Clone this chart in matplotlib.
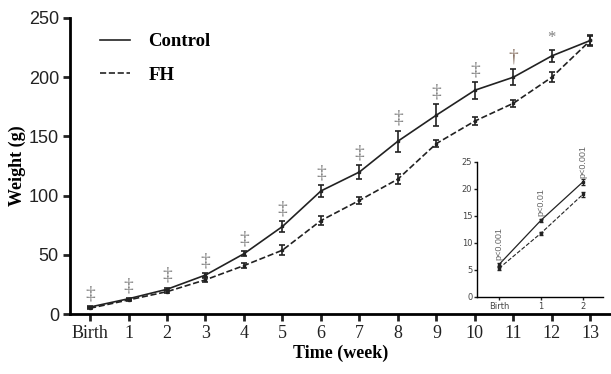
import numpy as np
import matplotlib
matplotlib.use("Agg")
import matplotlib.pyplot as plt
from matplotlib.lines import Line2D

# main chart data
weeks = ["Birth", "1", "2", "3", "4", "5", "6", "7", "8", "9", "10", "11", "12", "13"]
control = [6, 13, 21, 33, 51, 74, 104, 120, 146, 168, 189, 200, 218, 231]
control_err = [1, 1, 1.5, 2, 2, 5, 5, 6, 9, 9, 7, 7, 5, 5]
fh = [5, 12, 19, 29, 41, 54, 79, 96, 114, 144, 163, 178, 200, 231]
fh_err = [1, 1, 1.5, 1.5, 2, 4, 4, 3, 4, 3, 3, 3, 4, 4]
marks = ["‡"] * 11 + ["†", "*", ""]
mark_colors = ["#808080"] * 11 + ["#8a7466", "#808080", "#808080"]

# inset data (first weeks)
inset_weeks = ["Birth", "1", "2"]
inset_control = [6.0, 14.2, 21.3]
inset_control_err = [0.3, 0.3, 0.5]
inset_fh = [5.3, 11.8, 19.0]
inset_fh_err = [0.3, 0.3, 0.5]
inset_p = ["p<0.001", "p<0.01", "p<0.001"]

serif = ["Liberation Serif", "DejaVu Serif"]
sans = ["Liberation Sans", "DejaVu Sans"]
ink = "#222222"

fig = plt.figure(figsize=(6.11, 3.74), dpi=100)
ax = fig.add_axes([0.1146, 0.160, 0.885, 0.792])

x = np.arange(len(weeks))
ax.errorbar(x, control, yerr=control_err, color=ink, lw=1.2, capsize=2.5,
            elinewidth=1.2, capthick=1.2, marker="s", ms=2, label="Control")
ax.errorbar(x, fh, yerr=fh_err, color=ink, lw=1.2, ls="--", capsize=2.5,
            elinewidth=1.2, capthick=1.2, marker="s", ms=2, label="FH")
for i, m in enumerate(marks):
    if m:
        ax.text(x[i], control[i] + control_err[i] + 3, m, ha="center", va="bottom",
                fontsize=14 if m != "*" else 12, color=mark_colors[i], family=serif)

ax.set_xlim(-0.52, 13.53)
ax.set_ylim(0, 250)
ax.set_yticks([0, 50, 100, 150, 200, 250])
ax.set_xticks(x)
ax.set_xticklabels(weeks, family=serif, fontsize=13)
for lab in ax.get_yticklabels():
    lab.set_family(sans)
    lab.set_fontsize(13)
ax.spines["top"].set_visible(False)
ax.spines["right"].set_visible(False)
ax.spines["left"].set_linewidth(2)
ax.spines["bottom"].set_linewidth(2)
ax.tick_params(width=2, length=5, color=ink, labelcolor=ink, pad=3)
ax.set_xlabel("Time (week)", family=serif, fontsize=13, fontweight="bold", labelpad=2)
ax.set_ylabel("Weight (g)", family=serif, fontsize=13, fontweight="bold", labelpad=2)

handles = [Line2D([], [], color=ink, lw=1.2), Line2D([], [], color=ink, lw=1.2, ls="--")]
ax.legend(handles, ["Control", "FH"], loc="upper left", bbox_to_anchor=(0.025, 1.005),
          frameon=False, handlelength=1.6, handletextpad=0.95, labelspacing=0.85,
          prop={"family": serif, "weight": "bold", "size": 13.5})

# inset
axi = fig.add_axes([0.781, 0.206, 0.206, 0.361])
xi = np.arange(len(inset_weeks))
axi.errorbar(xi, inset_control, yerr=inset_control_err, color=ink, lw=0.9, capsize=1.5,
             marker="s", ms=2)
axi.errorbar(xi, inset_fh, yerr=inset_fh_err, color=ink, lw=0.8, ls="--", capsize=1.5,
             marker="s", ms=2)
for i, p in enumerate(inset_p):
    axi.text(xi[i], inset_control[i] + 0.8, p, rotation=90, ha="center", va="bottom",
             fontsize=6.5, color="#666666", family=sans)
axi.set_xlim(-0.52, 2.48)
axi.set_ylim(0, 25)
axi.set_xticks(xi)
axi.set_xticklabels(inset_weeks)
axi.set_yticks([0, 5, 10, 15, 20, 25])
axi.spines["top"].set_visible(False)
axi.spines["right"].set_visible(False)
axi.spines["left"].set_linewidth(1)
axi.spines["bottom"].set_linewidth(1)
axi.patch.set_alpha(0)
axi.tick_params(width=1, length=2.5, labelsize=6, pad=1, color=ink, labelcolor="#444444")

fig.savefig("out.png", dpi=100)
